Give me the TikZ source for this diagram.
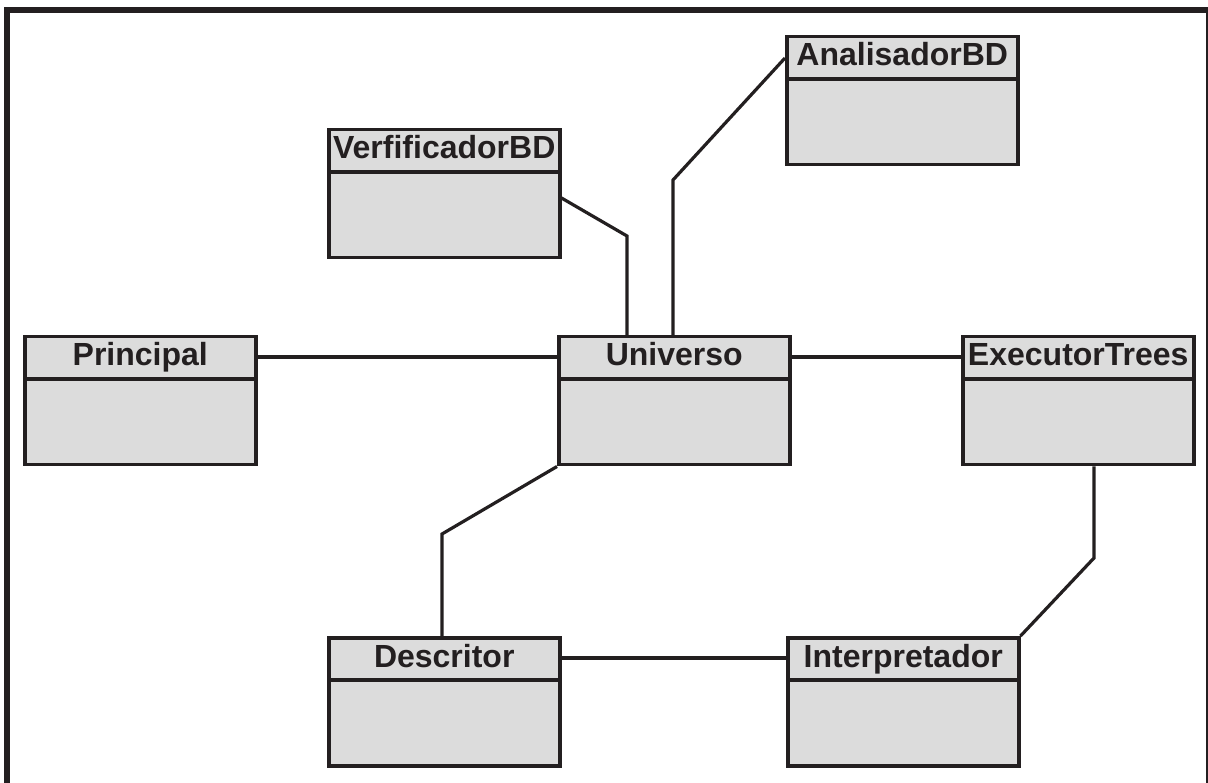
\documentclass[tikz,border=0pt]{standalone}
\usepackage{fontspec}
\setmainfont{Liberation Sans}
\definecolor{ink}{HTML}{231F20}
\definecolor{boxfill}{HTML}{DCDCDC}
\tikzset{
  classbox/.style={draw=ink, line width=3.5pt, fill=boxfill, rectangle,
    minimum width=231pt, minimum height=128pt, anchor=north west, inner sep=0pt},
  classname/.style={anchor=base, text=ink, inner sep=0pt,
    font=\fontsize{32pt}{32pt}\selectfont\bfseries},
  divider/.style={draw=ink, line width=3.5pt},
  link/.style={draw=ink, line width=3.2pt, line join=miter},
  frame/.style={draw=ink, line width=6pt}
}
% #1 node name, #2 top-left corner, #3 class name
\newcommand{\umlclass}[3]{%
  \node[classbox] (#1) at (#2) {};
  \path (#1.north west) ++(0,44) coordinate (#1-hl);
  \path (#1.north east) ++(0,44) coordinate (#1-hr);
  \draw[divider] (#1-hl) -- (#1-hr);
  \path (#1.north) ++(0,31) node[classname] (#1-t) {#3};
}
\begin{document}
\begin{tikzpicture}[x=1pt,y=-1pt]
  \useasboundingbox (0,0) rectangle (1208,783);
  \clip (0,0) rectangle (1208,783);
  \fill[white] (0,0) rectangle (1208,783);

  % outer frame (bottom edge lies below the page)
  \coordinate (f1) at (7,800);
  \coordinate (f2) at (7,10);
  \coordinate (f3) at (1209,10);
  \coordinate (f4) at (1209,800);
  \draw[frame] (f1) -- (f2) -- (f3) -- (f4);

  % classes
  \umlclass{ana}{785,35}{AnalisadorBD}
  \umlclass{ver}{327,128}{VerfificadorBD}
  \umlclass{pri}{23,335}{Principal}
  \umlclass{uni}{557,335}{Universo}
  \umlclass{exe}{961,335}{ExecutorTrees}
  \umlclass{des}{327,636}{Descritor}
  \umlclass{int}{786,636}{Interpretador}

  % bend points of the associations
  \coordinate (b-ver) at (627,236);
  \coordinate (b-ana) at (673,180);
  \coordinate (b-des) at (442,534);
  \coordinate (b-int) at (1094,558);

  % associations
  \draw[link] (pri.east |- 0,357) -- (uni.west |- 0,357);
  \draw[link] (uni.east |- 0,357) -- (exe.west |- 0,357);
  \draw[link] (ver.east |- 0,198) -- (b-ver) -- (b-ver |- uni.north);
  \draw[link] (ana.west |- 0,58) -- (b-ana) -- (b-ana |- uni.north);
  \draw[link] (uni.south west) -- (b-des) -- (b-des |- des.north);
  \draw[link] (des.east |- 0,658) -- (int.west |- 0,658);
  \draw[link] (int.north east) -- (b-int) -- (b-int |- exe.south);
\end{tikzpicture}
\end{document}
